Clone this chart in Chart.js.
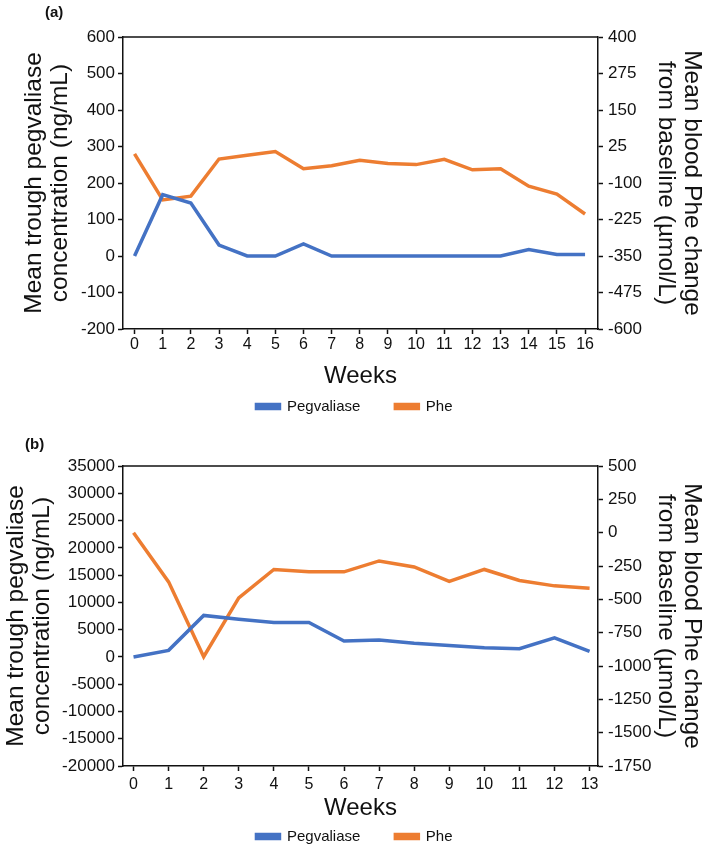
<!doctype html>
<html>

<head>
	<title>Pegvaliase and Phe</title>
	<script src="https://cdn.jsdelivr.net/npm/chart.js@4/dist/chart.umd.min.js"></script>
	<style>
		html, body {
			margin: 0;
			padding: 0;
			background: #fff;
			overflow: hidden;
		}
		.panel {
			position: absolute;
			left: 0;
			width: 709px;
		}
	</style>
</head>

<body>
	<div class="panel" style="top:0;height:424px">
		<canvas id="chartA"></canvas>
	</div>
	<div class="panel" style="top:424px;height:430px">
		<canvas id="chartB"></canvas>
	</div>
	<script>
		// panel (a)
		const weeksA = [0, 1, 2, 3, 4, 5, 6, 7, 8, 9, 10, 11, 12, 13, 14, 15, 16];
		const pegA = [0, 168, 145, 30, 0, 0, 33, 0, 0, 0, 0, 0, 0, 0, 18, 4, 4];
		const pheA = [0, -158, -145, -18, -5, 8, -51, -41, -22, -33, -37, -19, -55, -51, -111, -138, -206];
		const leftTicksA = [-200, 600, 100];   // min, max, step
		const rightTicksA = [-600, 400, 125];

		// panel (b)
		const weeksB = [0, 1, 2, 3, 4, 5, 6, 7, 8, 9, 10, 11, 12, 13];
		const pegB = [0, 1200, 7600, 6900, 6300, 6300, 2900, 3100, 2500, 2100, 1700, 1500, 3500, 1000];
		const pheB = [0, -369, -930, -489, -276, -294, -294, -212, -257, -366, -276, -359, -399, -416];
		const leftTicksB = [-20000, 35000, 5000];
		const rightTicksB = [-1750, 500, 250];

		const BLUE = '#4472c4';
		const ORANGE = '#ed7d31';
		const FONT = "'Liberation Sans', Arial, sans-serif";

		// top edge of the plot box + panel letter
		const framePlugin = {
			id: 'frame',
			afterDraw(chart, args, opts) {
				const {ctx, chartArea: a} = chart;
				ctx.save();
				ctx.strokeStyle = '#111';
				ctx.lineWidth = 1.5;
				ctx.beginPath();
				ctx.moveTo(a.left, a.top);
				ctx.lineTo(a.right, a.top);
				ctx.stroke();
				ctx.fillStyle = '#111';
				ctx.font = 'bold 15px ' + FONT;
				ctx.textBaseline = 'middle';
				ctx.fillText(opts.text, opts.x, opts.y);
				ctx.restore();
			}
		};

		function axisStyle(extra) {
			return Object.assign({
				border: {display: true, color: '#111', width: 1.5},
				grid: {drawOnChartArea: false, drawTicks: true, tickLength: 5, tickColor: '#111', tickWidth: 1.5},
			}, extra);
		}

		function makeChart(id, p) {
			return new Chart(document.getElementById(id), {
				type: 'line',
				data: {
					labels: p.weeks,
					datasets: [{
						label: 'Pegvaliase',
						data: p.peg,
						yAxisID: 'y',
						borderColor: BLUE,
						backgroundColor: BLUE,
						borderWidth: 3.5,
						pointRadius: 0,
						tension: 0
					}, {
						label: 'Phe',
						data: p.phe,
						yAxisID: 'y1',
						borderColor: ORANGE,
						backgroundColor: ORANGE,
						borderWidth: 3.5,
						pointRadius: 0,
						tension: 0
					}]
				},
				plugins: [framePlugin],
				options: {
					responsive: true,
					maintainAspectRatio: false,
					animation: false,
					layout: {padding: {top: p.top, left: 0, right: 0, bottom: 0}},
					plugins: {
						tooltip: {enabled: false},
						frame: {text: p.letter, x: p.letterX, y: p.letterY},
						legend: {
							position: 'bottom',
							labels: {
								boxWidth: 23,
								boxHeight: 4,
								padding: 35,
								color: '#111',
								font: {family: FONT, size: 15}
							}
						}
					},
					scales: {
						x: axisStyle({
							type: 'linear',
							min: p.xMin,
							max: p.xMax,
							ticks: {
								stepSize: 1,
								includeBounds: false,
								autoSkip: false,
								maxRotation: 0,
								padding: p.xPad,
								color: '#111',
								font: {family: FONT, size: 16}
							},
							title: {
								display: true,
								text: 'Weeks',
								color: '#111',
								font: {family: FONT, size: 24},
								padding: {top: 0, bottom: p.titleShift}
							},
							afterFit: (s) => { s.height = p.xHeight; }
						}),
						y: axisStyle({
							position: 'left',
							min: p.left[0],
							max: p.left[1],
							ticks: {
								stepSize: p.left[2],
								padding: 3,
								color: '#111',
								font: {family: FONT, size: 17},
								callback: (v) => String(v)
							},
							title: {
								display: true,
								text: ['Mean trough pegvaliase', 'concentration (ng/mL)'],
								color: '#111',
								font: {family: FONT, size: 24.5, lineHeight: 1.06},
								padding: {top: p.leftTitlePad, bottom: 0}
							},
							afterFit: (s) => { s.width = 123; }
						}),
						y1: axisStyle({
							position: 'right',
							min: p.right[0],
							max: p.right[1],
							ticks: {
								stepSize: p.right[2],
								padding: 5,
								color: '#111',
								font: {family: FONT, size: 17},
								callback: (v) => String(v)
							},
							title: {
								display: true,
								text: ['Mean blood Phe change', 'from baseline (\u00b5mol/L)'],
								color: '#111',
								font: {family: FONT, size: 24.5, lineHeight: 1.06},
								padding: {top: 4, bottom: 0}
							},
							afterFit: (s) => { s.width = 111; }
						})
					}
				}
			});
		}

		makeChart('chartA', {
			weeks: weeksA, peg: pegA, phe: pheA,
			left: leftTicksA, right: rightTicksA,
			xMin: -0.41, xMax: 16.46,
			top: 37, xHeight: 35, xPad: 1, titleShift: -27,
			leftTitlePad: 21,
			letter: '(a)', letterX: 45, letterY: 13
		});

		makeChart('chartB', {
			weeks: weeksB, peg: pegB, phe: pheB,
			left: leftTicksB, right: rightTicksB,
			xMin: -0.30, xMax: 13.24,
			top: 42, xHeight: 28, xPad: 4, titleShift: -29,
			leftTitlePad: 3,
			letter: '(b)', letterX: 25, letterY: 21
		});
	</script>
</body>

</html>
